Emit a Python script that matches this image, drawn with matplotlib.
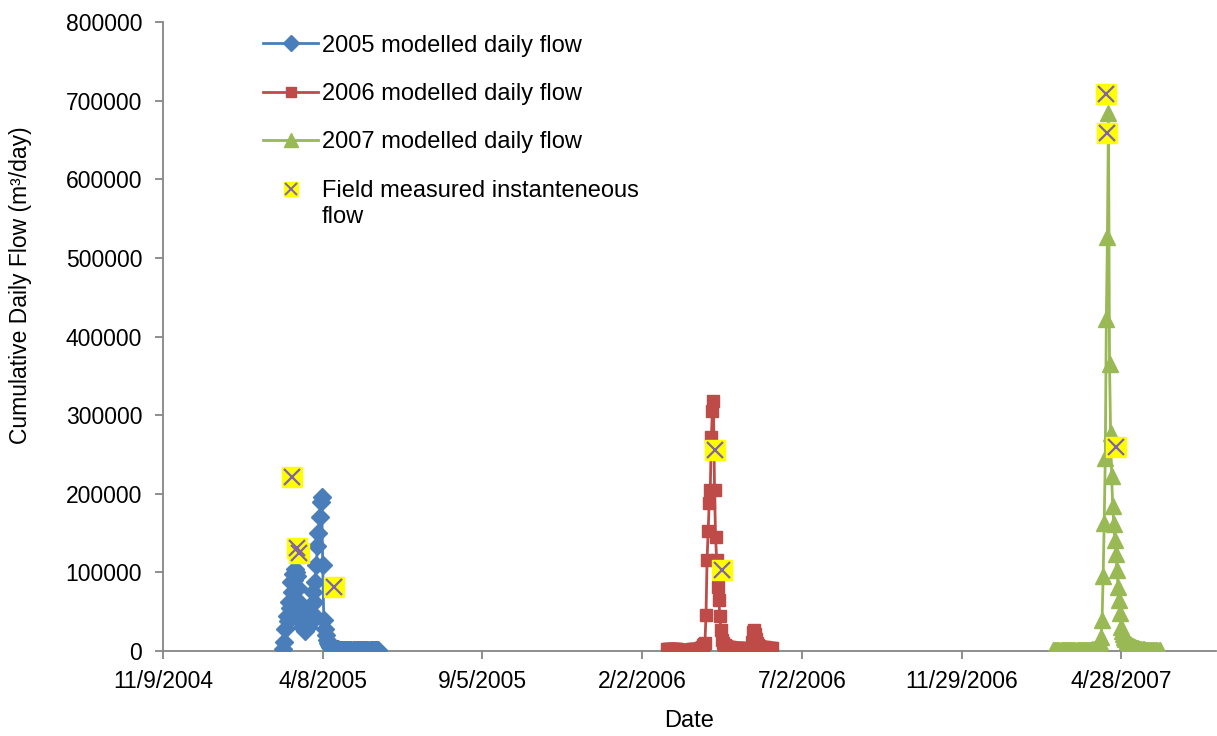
import numpy as np
import pandas as pd
import matplotlib
matplotlib.use("Agg")
import matplotlib.pyplot as plt
from matplotlib.lines import Line2D

plt.rcParams['font.family'] = ['Liberation Sans', 'DejaVu Sans']

# modelled daily flow, one value per day from the start date
start_2005 = '2005-03-02'
flow_2005 = [3000, 12000, 28000, 45000, 38000, 62000, 55000, 88000, 75000, 98000,
             90000, 104000, 100000, 95000,
             80000, 62000, 50000, 38000, 30000, 35000, 26000, 40000, 32000,
             30000, 42000, 35000, 58000, 48000, 75000, 62000, 88000, 110000, 133000,
             150000, 170000, 190000, 196000,
             110000, 40000, 28000, 20000, 14000, 10000, 7000, 5000, 4000, 3000, 2500,
             2200, 2100, 2000, 2000, 1900, 1900, 1800, 1800, 1700, 1700, 1600, 1600,
             1500, 1500, 1500, 1400, 1400, 1400, 1300, 1300, 1300, 1200, 1200, 1200,
             1200, 1100, 1100, 1100, 1100, 1000, 1000, 1000, 1000, 1000, 900, 900,
             900, 900, 900, 800, 800, 800]

start_2006 = '2006-02-25'
flow_2006 = [2500, 2400, 2300, 2300, 2200, 2200, 2100, 2100, 2000, 2000, 2000, 1900,
             1900, 1900, 1800, 1800, 1800, 1800, 1700, 1700, 1700, 1700, 1800, 1900,
             2000, 2100, 2200, 2300, 2500, 2700, 2900, 3200,
             3500, 5000, 7000, 9000,
             10000, 46000, 116000, 152000, 188000, 205000, 272000, 305000, 318000,
             205000, 145000, 116000, 82000, 65000, 44000, 27000, 14000,
             10000, 8000, 7000, 6000, 5500, 5000, 4800, 4600, 4400, 4200, 4000, 3900,
             3800, 3700, 3600, 3500, 3400, 3300, 3200, 3100, 3000, 3000, 2900, 2900,
             2800, 2800, 2700,
             12000, 24000, 27000, 22000, 15000, 10000, 7000,
             6000, 5600, 5300, 5000, 4800, 4600, 4400, 4200, 4000, 3900, 3800, 3700, 3600]

start_2007 = '2007-02-23'
flow_2007 = [1500, 1400, 1400, 1300, 1300, 1300, 1200, 1200, 1200, 1100, 1100, 1100,
             1000, 1000, 1000, 1000, 1000, 900, 900, 900, 900, 900, 900, 1000, 1000,
             1000, 1100, 1100, 1200, 1200, 1300, 1300, 1400, 1500, 1600, 1700, 1800,
             2000, 2200, 2500, 2800, 3200,
             4000, 8000, 12000,
             18000, 40000, 95000, 163000, 245000, 422000, 526000, 684000,
             365000, 277000, 222000, 184000, 162000, 141000, 124000, 103000, 82000,
             65000, 48000, 31000,
             25000, 21000, 18000, 15000, 13000, 11000, 9500, 8500, 7500, 6500, 5800,
             5200, 4600, 4100, 3700, 3300, 3000, 2700, 2500, 2300, 2100, 1900, 1800,
             1700, 1600, 1500, 1400, 1300, 1200, 1100, 1000, 1000, 900, 900, 800, 800]

# field measured instantaneous flow
field_dates = ['2005-03-10', '2005-03-15', '2005-03-17', '2005-04-19',
               '2006-04-11', '2006-04-18',
               '2007-04-14', '2007-04-15', '2007-04-23']
field_flow = [221000, 131000, 125000, 82000,
              256000, 103000,
              709000, 659000, 260000]

tick_dates = ['2004-11-09', '2005-04-08', '2005-09-05', '2006-02-02',
              '2006-07-02', '2006-11-29', '2007-04-28']
tick_labels = ['11/9/2004', '4/8/2005', '9/5/2005', '2/2/2006',
               '7/2/2006', '11/29/2006', '4/28/2007']

blue = '#4A7EBB'
red = '#BE4B48'
green = '#98B954'
yellow = '#FFFF00'
purple = '#7F64A6'
fs = 17

W, H = 1217, 736
fig = plt.figure(figsize=(W / 100, H / 100), dpi=100)
ax = fig.add_axes([163 / W, 1 - 651 / H, (1216 - 163) / W, (651 - 22) / H])

def days(start, vals):
    return pd.date_range(start, periods=len(vals), freq='D')

ax.plot(days(start_2005, flow_2005), flow_2005, color=blue, lw=2, marker='D',
        ms=9, mec=blue, mfc=blue, zorder=3)
ax.plot(days(start_2006, flow_2006), flow_2006, color=red, lw=2, marker='s',
        ms=8, mec=red, mfc=red, zorder=3)
ax.plot(days(start_2007, flow_2007), flow_2007, color=green, lw=2, marker='^',
        ms=11, mec=green, mfc=green, zorder=3)

fd = pd.to_datetime(field_dates)
ax.plot(fd, field_flow, ls='none', marker='s', ms=14.5, mfc=yellow, mec=yellow, zorder=4)
ax.plot(fd, field_flow, ls='none', marker='x', ms=11, mew=1.6, color=purple, zorder=5)

ax.set_xlim(pd.Timestamp('2004-11-09'), pd.Timestamp('2004-11-09') + pd.Timedelta(days=989))
ax.set_ylim(0, 800000)
ax.set_xticks(pd.to_datetime(tick_dates))
ax.set_xticklabels(tick_labels)
ax.set_yticks(np.arange(0, 800001, 100000))
ax.set_yticklabels([str(v) for v in range(0, 800001, 100000)])

for s in ['top', 'right']:
    ax.spines[s].set_visible(False)
for s in ['left', 'bottom']:
    ax.spines[s].set_color('#868686')
    ax.spines[s].set_linewidth(1.3)
ax.tick_params(axis='both', colors='#868686', labelcolor='black', labelsize=16.5,
               length=6, width=1.3, direction='out')
ax.tick_params(axis='x', pad=8)
ax.tick_params(axis='y', pad=9)

ax.set_xlabel('Date', fontsize=fs, labelpad=12)
fig.text(21 / W, 1 - 285 / H, 'Cumulative Daily Flow (m³/day)', fontsize=16.5,
         rotation=90, ha='center', va='center')

handles = [
    Line2D([], [], color=blue, lw=2, marker='D', ms=8),
    Line2D([], [], color=red, lw=2, marker='s', ms=7.5),
    Line2D([], [], color=green, lw=2, marker='^', ms=10),
    (Line2D([], [], ls='none', marker='s', ms=9.5, mfc=yellow, mec=yellow),
     Line2D([], [], ls='none', marker='x', ms=8, mew=1.4, color=purple)),
]
labels = ['2005 modelled daily flow', '2006 modelled daily flow',
          '2007 modelled daily flow', 'Field measured instanteneous']
leg = ax.legend(handles, labels, loc='upper left', bbox_to_anchor=(0.095, 0.98),
                frameon=False, fontsize=fs, handlelength=2.33, handletextpad=0.17,
                labelspacing=1.12, borderpad=0, borderaxespad=0)

# second line of the last legend label
fig.canvas.draw()
bb = leg.get_texts()[3].get_window_extent()
fig.text(bb.x0 / W, ((bb.y0 + bb.y1) / 2 - 26) / H, 'flow', fontsize=fs,
         ha='left', va='center')

fig.savefig('out.png', dpi=100)
